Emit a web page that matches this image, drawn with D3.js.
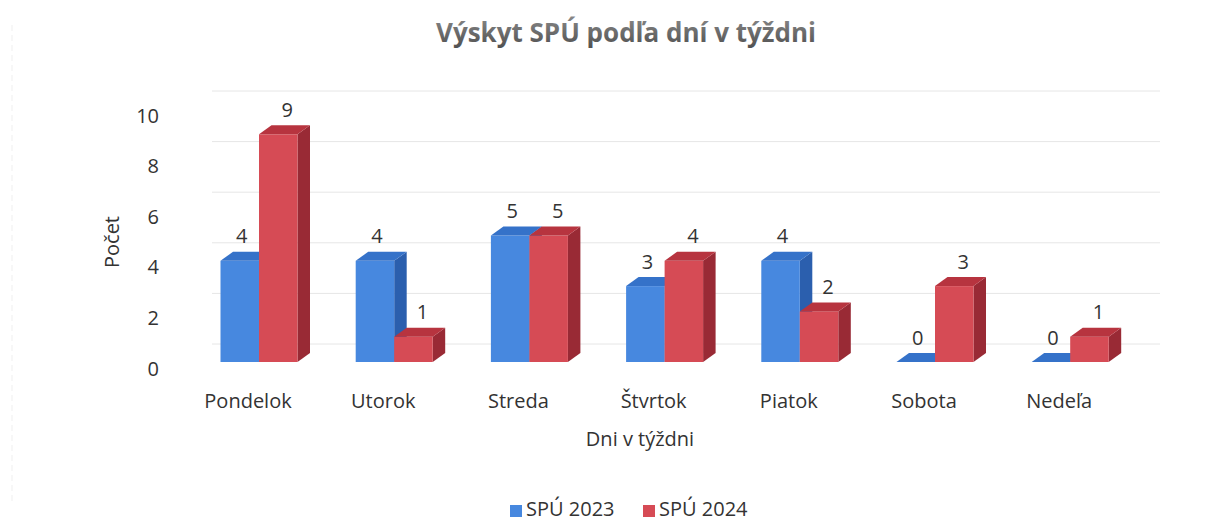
<!DOCTYPE html>
<html>
<head>
<meta charset="utf-8">
<script src="https://cdn.jsdelivr.net/npm/d3@7"></script>
<style>
  body { margin: 0; background: #fff; }
  svg text { font-family: "Open Sans", sans-serif; fill: #333; }
</style>
</head>
<body>
<div id="chart"></div>
<script>
const days = ["Pondelok", "Utorok", "Streda", "Štvrtok", "Piatok", "Sobota", "Nedeľa"];
const seriesNames = ["SPÚ 2023", "SPÚ 2024"];
const spu2023 = [4, 4, 5, 3, 4, 0, 0];
const spu2024 = [9, 1, 5, 4, 2, 3, 1];
const yTickValues = [0, 2, 4, 6, 8, 10];

const width = 1231, height = 527;
const depthX = 12.5, depthY = 9;   // 3d depth of the columns
const wallY = 18;                  // back wall offset (gridlines)
const barW = 38.5;
const fontSize = "20px";

const colors = {
    "SPÚ 2023": { front: "#4788df", top: "#3572c9", side: "#2b5fae" },
    "SPÚ 2024": { front: "#d64b55", top: "#b7343f", side: "#992a35" }
};

const svg = d3.select("#chart")
    .append("svg")
    .attr("width", width)
    .attr("height", height);

const x0 = d3.scaleBand()
    .domain(days)
    .range([191.4, 1137.8])
    .padding(0);

const x1 = d3.scaleBand()
    .domain(seriesNames)
    .range([x0.bandwidth() / 2 - barW, x0.bandwidth() / 2 + barW]);

const y = d3.scaleLinear()
    .domain([0, 10])
    .range([362, 109]);

// faint scan border on the left
svg.append("line")
    .attr("x1", 12).attr("x2", 12)
    .attr("y1", 25).attr("y2", 505)
    .attr("stroke", "#efefef")
    .attr("stroke-dasharray", "6,4");

// title
const defs = svg.append("defs");
const grad = defs.append("linearGradient")
    .attr("id", "titleGrad")
    .attr("x1", 0).attr("x2", 0).attr("y1", 0).attr("y2", 1);
grad.append("stop").attr("offset", "0%").attr("stop-color", "#8c8c8c");
grad.append("stop").attr("offset", "100%").attr("stop-color", "#4d4d4d");

svg.append("text")
    .attr("x", 626)
    .attr("y", 32)
    .attr("text-anchor", "middle")
    .attr("dominant-baseline", "central")
    .style("font-size", "26px")
    .style("font-weight", "bold")
    .style("fill", "url(#titleGrad)")
    .text("Výskyt SPÚ podľa dní v týždni");

// gridlines on the back wall
svg.append("g")
    .attr("class", "grid")
    .selectAll("line")
    .data(yTickValues)
    .enter()
    .append("line")
    .attr("x1", 212)
    .attr("x2", 1160)
    .attr("y1", d => y(d) - wallY)
    .attr("y2", d => y(d) - wallY)
    .attr("stroke", "#e6e6e6")
    .attr("stroke-width", 1);

// y axis labels
const yAxis = d3.axisLeft(y)
    .tickValues(yTickValues)
    .tickSize(0)
    .tickPadding(0);

const yAxisDraw = svg.append("g")
    .attr("class", "y axis")
    .attr("transform", "translate(159, 6)")
    .call(yAxis);
yAxisDraw.select(".domain").remove();
yAxisDraw.selectAll("text")
    .attr("dy", "0.35em")
    .style("font-size", fontSize)
    .style("font-family", "'Open Sans', sans-serif");

// x axis labels
const xAxis = d3.axisBottom(x0)
    .tickSize(0)
    .tickPadding(0);

const xAxisDraw = svg.append("g")
    .attr("class", "x axis")
    .attr("transform", "translate(-11, 401)")
    .call(xAxis);
xAxisDraw.select(".domain").remove();
xAxisDraw.selectAll("text")
    .attr("y", 0)
    .attr("dy", "0.35em")
    .style("font-size", fontSize)
    .style("font-family", "'Open Sans', sans-serif");

// bars
const rows = days.map((d, i) => ({
    day: d,
    values: [
        { key: seriesNames[0], value: spu2023[i] },
        { key: seriesNames[1], value: spu2024[i] }
    ]
}));

const groups = svg.append("g")
    .attr("class", "bars")
    .selectAll(".day")
    .data(rows)
    .enter()
    .append("g")
    .attr("class", "day")
    .attr("transform", d => `translate(${x0(d.day)}, 0)`);

const bars = groups.selectAll(".bar")
    .data(d => d.values)
    .enter()
    .append("g")
    .attr("class", "bar");

function topFace(d) {
    const x = x1(d.key), t = y(d.value);
    return `M${x},${t} L${x + depthX},${t - depthY} L${x + barW + depthX},${t - depthY} L${x + barW},${t} Z`;
}
function sideFace(d) {
    const x = x1(d.key) + barW, t = y(d.value), b = y(0);
    return `M${x},${t} L${x + depthX},${t - depthY} L${x + depthX},${b - depthY} L${x},${b} Z`;
}

bars.append("path")
    .attr("d", sideFace)
    .attr("fill", d => colors[d.key].side);

bars.append("rect")
    .attr("x", d => x1(d.key))
    .attr("y", d => y(d.value))
    .attr("width", barW)
    .attr("height", d => y(0) - y(d.value))
    .attr("fill", d => colors[d.key].front);

bars.append("path")
    .attr("d", topFace)
    .attr("fill", d => colors[d.key].top);

// data labels
bars.append("text")
    .attr("x", d => x1(d.key) + barW / 2 + (d.key === seriesNames[0] ? 2 : 9))
    .attr("y", d => y(d.value) - 25)
    .attr("text-anchor", "middle")
    .attr("dominant-baseline", "central")
    .style("font-size", fontSize)
    .text(d => d.value);

// axis titles
svg.append("text")
    .attr("x", 640)
    .attr("y", 438)
    .attr("text-anchor", "middle")
    .attr("dominant-baseline", "central")
    .style("font-size", fontSize)
    .text("Dni v týždni");

svg.append("text")
    .attr("transform", "translate(111, 242) rotate(-90)")
    .attr("text-anchor", "middle")
    .attr("dominant-baseline", "central")
    .style("font-size", fontSize)
    .text("Počet");

// legend
const legend = svg.append("g")
    .attr("class", "legend")
    .selectAll("g")
    .data(seriesNames)
    .enter()
    .append("g")
    .attr("transform", (d, i) => `translate(${i === 0 ? 510 : 643}, 0)`);

legend.append("rect")
    .attr("x", 0)
    .attr("y", 505)
    .attr("width", 12)
    .attr("height", 12)
    .attr("fill", d => colors[d].front);

legend.append("text")
    .attr("x", 16)
    .attr("y", 516)
    .style("font-size", fontSize)
    .text(d => d);
</script>
</body>
</html>
